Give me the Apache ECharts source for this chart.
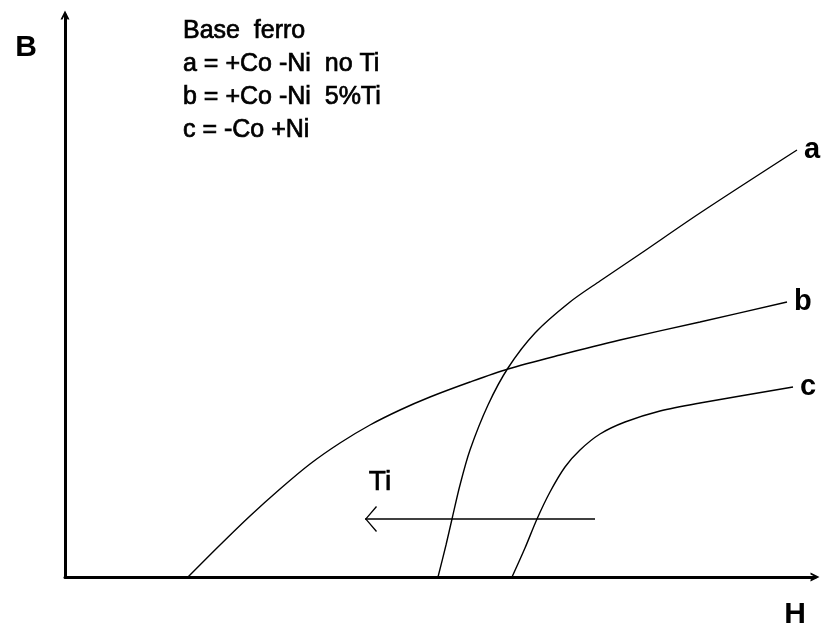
<!DOCTYPE html>
<html>
<head>
<meta charset="utf-8">
<script src="https://cdn.jsdelivr.net/npm/echarts@6/dist/echarts.min.js"></script>
<style>
html,body{margin:0;padding:0;background:#fff;}
#chart{width:826px;height:631px;}
</style>
</head>
<body>
<div id="chart"></div>
<script>
// Curve data (H, B) in arbitrary plot units
const curveA = [[373,0],[381,32],[387,58],[395,92],[405,127],[423,172],[443,209],[470,244],[505,275],[535,296],[575,323],[635,364],[732,427]];
const curveB = [[123,0],[155,32],[185,61],[215,88],[245,113],[275,134],[305,152],[335,167],[365,180],[405,195],[443,208],[495,222],[555,237],[635,255],[722,275]];
const curveC = [[447,0],[460,29],[472,58],[485,85],[500,110],[515,127],[535,143],[560,155],[595,166],[635,174],[728,190]];
const tiArrow = [[300,58],[530,58]];
const curveNames = ['a','b','c'];
const legendLines = ['Base  ferro','a = +Co -Ni  no Ti','b = +Co -Ni  5%Ti','c = -Co +Ni'];
const axisNames = {x:'H', y:'B'};
const arrowLabel = 'Ti';

const FONT = '"Liberation Sans", Arial, Helvetica, sans-serif';
const chevronUp = 'path://M0,10 L5,0 L10,10 L7.8,10 L5,4.4 L2.2,10 Z';
const chevronLeft = 'path://M11,0 L0,13 L11,26 L12,25 L1.6,13 L12,1 Z';

function curveSeries(name, data){
  return {
    type:'line', name:name, data:data, smooth:0.3, showSymbol:false, silent:true,
    lineStyle:{color:'#000', width:1.4},
    endLabel:{show:true, formatter:name, color:'#000', fontFamily:FONT, fontWeight:'bold', fontSize:29, distance:7},
    emphasis:{disabled:true}
  };
}

const chart = echarts.init(document.getElementById('chart'), null, {renderer:'canvas'});
chart.setOption({
  animation:false,
  backgroundColor:'#fff',
  title:{
    text: legendLines.join('\n'),
    left:178, top:10,
    textStyle:{fontFamily:FONT, fontSize:25, fontWeight:'normal', color:'#000', lineHeight:33,
      textBorderColor:'#000', textBorderWidth:0.7}
  },
  grid:{left:65, top:15, right:11, bottom:54},
  xAxis:{
    type:'value', min:0, max:750,
    name:axisNames.x, nameLocation:'end', nameGap:0,
    nameTextStyle:{fontFamily:FONT, fontWeight:'bold', fontSize:30, color:'#000', verticalAlign:'top', align:'right', padding:[23,9,0,0]},
    axisLine:{show:true, onZero:false, symbol:['none', chevronUp], symbolSize:[16,9], lineStyle:{color:'#000', width:3}},
    axisTick:{show:false}, axisLabel:{show:false}, splitLine:{show:false}
  },
  yAxis:{
    type:'value', min:0, max:562,
    name:axisNames.y, nameLocation:'end', nameGap:0,
    nameTextStyle:{fontFamily:FONT, fontWeight:'bold', fontSize:30, color:'#000', align:'right', verticalAlign:'top', padding:[18,28,0,0]},
    axisLine:{show:true, onZero:false, symbol:['none', chevronUp], symbolSize:[16,9], lineStyle:{color:'#000', width:3}},
    axisTick:{show:false}, axisLabel:{show:false}, splitLine:{show:false}
  },
  series:[
    curveSeries(curveNames[0], curveA),
    curveSeries(curveNames[1], curveB),
    curveSeries(curveNames[2], curveC),
    {
      type:'line', name:'Ti', silent:true, smooth:false,
      data:[
        {value:tiArrow[0], symbol:chevronLeft, symbolSize:[12,26], symbolOffset:[6,0],
         label:{show:true, formatter:arrowLabel, position:'top', offset:[9,-5], color:'#000', fontFamily:FONT, fontSize:28,
           textBorderColor:'#000', textBorderWidth:0.7}},
        {value:tiArrow[1], symbol:'none'}
      ],
      showSymbol:true, showAllSymbol:true,
      itemStyle:{color:'#000'},
      lineStyle:{color:'#000', width:1.5},
      emphasis:{disabled:true}
    }
  ]
});
</script>
</body>
</html>
